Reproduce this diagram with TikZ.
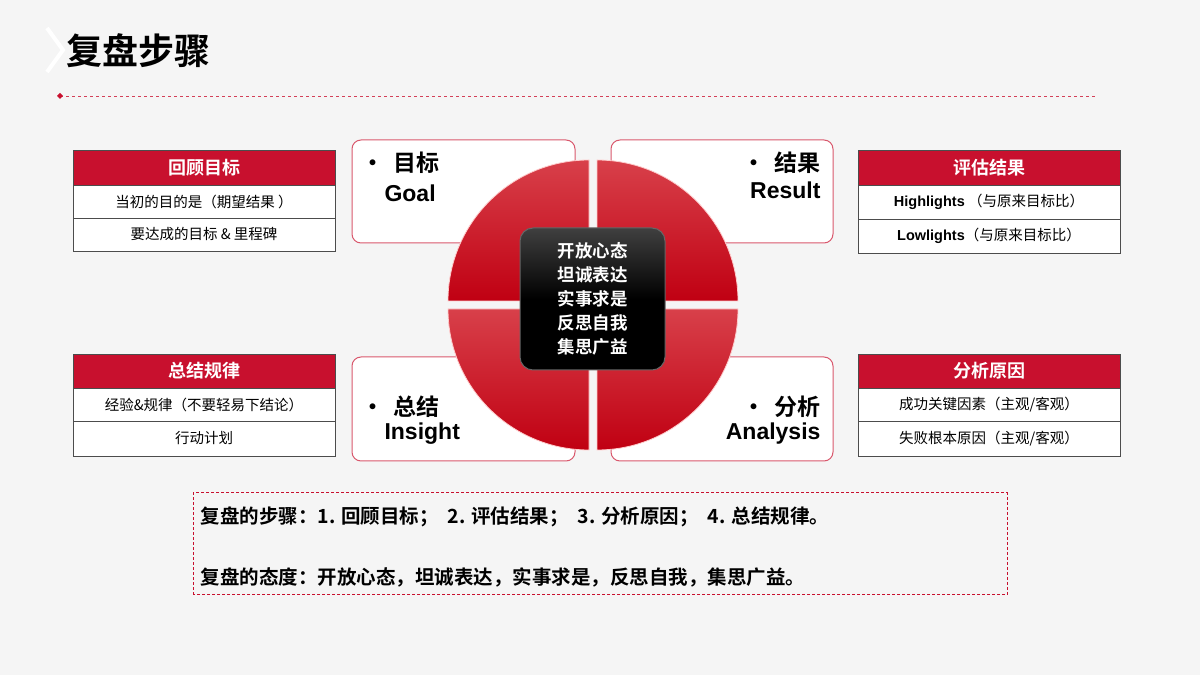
\documentclass[tikz,border=0pt]{standalone}
\usepackage{fontspec}
\setmainfont{Noto Sans CJK SC}[BoldFont={Noto Sans CJK SC Bold}]
\newfontfamily\lat{Liberation Sans}
\definecolor{myred}{HTML}{C8102E}
\definecolor{slicetop}{HTML}{D8404A}
\definecolor{slicebot}{HTML}{C00012}
\definecolor{bg}{HTML}{F5F5F5}
\begin{document}
\begin{tikzpicture}[x=1pt,y=1pt,
  qbox/.style={draw=myred!70,line width=1pt,fill=white,rounded corners=9pt},
  slice/.style={top color=slicetop,bottom color=slicebot,draw=white!80!red,line width=0.8pt},
  hdr/.style={fill=myred,draw=black!70,line width=0.8pt},
  cell/.style={fill=white,draw=black!70,line width=0.8pt},
  hdrtxt/.style={font=\fontsize{18}{20}\selectfont\bfseries,text=white},
  celltxt/.style={font=\fontsize{14.5}{16}\selectfont},
  qlab/.style={font=\fontsize{23}{26}\selectfont\bfseries},
  qlat/.style={font=\lat\fontsize{23}{26}\selectfont\bfseries}]
\fill[bg] (0,0) rectangle (1200,675);
\useasboundingbox (0,0) rectangle (1200,675);
% title
\draw[white,line width=4pt] (47,647) -- (63,625) -- (47,603);
\node[anchor=west,font=\fontsize{36}{40}\selectfont\bfseries] (title) at (63,624) {复盘步骤};
\coordinate (l0) at (60,579); \coordinate (l1) at (1095,579);
\draw[myred!80,dashed,line width=0.8pt] (l0) -- (l1);
\fill[myred] (l0) ++(-3,0) -- ++(3,3) -- ++(3,-3) -- ++(-3,-3) -- cycle;
% quadrant boxes
\draw[qbox] (352,432) rectangle (575,535);
\draw[qbox] (611,432) rectangle (833,535);
\draw[qbox] (352,214) rectangle (575,318);
\draw[qbox] (611,214) rectangle (833,318);
% slices
\draw[slice] (589,374) -- ++(-141,0) arc[start angle=180,end angle=90,radius=141] -- cycle;
\draw[slice] (597,374) -- ++(0,141) arc[start angle=90,end angle=0,radius=141] -- cycle;
\draw[slice] (589,366) -- ++(-141,0) arc[start angle=180,end angle=270,radius=141] -- cycle;
\draw[slice] (597,366) -- ++(0,-141) arc[start angle=270,end angle=360,radius=141] -- cycle;
% center
\draw[rounded corners=13pt,top color=black!75,bottom color=black,middle color=black,draw=black!60,line width=1pt] (520,305) rectangle (665,447);
\node[text=white,font=\fontsize{17.5}{24}\selectfont\bfseries,align=center] (ctr) at (592.5,376) {开放心态\\坦诚表达\\实事求是\\反思自我\\集思广益};
% quadrant labels
\node[qlab,anchor=west] (g1) at (358,512) {•\, 目标};
\node[qlat,anchor=west] (g2) at (381,482) {Goal};
\node[qlab,anchor=east] (r1) at (824,512) {•\, 结果};
\node[qlat,anchor=east] (r2) at (824,485) {Result};
\node[qlab,anchor=west] (i1) at (358,268) {•\, 总结};
\node[qlat,anchor=west] (i2) at (381,241) {Insight};
\node[qlab,anchor=east] (a1) at (824,268) {•\, 分析};
\node[qlat,anchor=east] (a2) at (824,241) {Analysis};
% tables
\draw[hdr] (73,490) rectangle (335,525); \node[hdrtxt] (t1h) at (204,507.5) {回顾目标};
\draw[cell] (73,457) rectangle (335,490); \node[celltxt] (t1a) at (204,473.5) {当初的目的是（期望结果 ）};
\draw[cell] (73,424) rectangle (335,457); \node[celltxt] (t1b) at (204,440.5) {要达成的目标 \& 里程碑};
\draw[hdr] (858,490) rectangle (1120,525); \node[hdrtxt] (t2h) at (989,507.5) {评估结果};
\draw[cell] (858,456) rectangle (1120,490); \node[celltxt] (t2a) at (989,473) {{\lat\bfseries Highlights} （与原来目标比）};
\draw[cell] (858,422) rectangle (1120,456); \node[celltxt] (t2b) at (989,439) {{\lat\bfseries Lowlights}（与原来目标比）};
\draw[hdr] (73,287) rectangle (335,321); \node[hdrtxt] (t3h) at (204,304) {总结规律};
\draw[cell] (73,254) rectangle (335,287); \node[celltxt] (t3a) at (204,270.5) {经验\&规律（不要轻易下结论）};
\draw[cell] (73,219) rectangle (335,254); \node[celltxt] (t3b) at (204,236.5) {行动计划};
\draw[hdr] (858,287) rectangle (1120,321); \node[hdrtxt] (t4h) at (989,304) {分析原因};
\draw[cell] (858,254) rectangle (1120,287); \node[celltxt] (t4a) at (989,270.5) {成功关键因素（主观/客观）};
\draw[cell] (858,219) rectangle (1120,254); \node[celltxt] (t4b) at (989,236.5) {失败根本原因（主观/客观）};
% bottom
\draw[myred,densely dashed,line width=1pt] (193,80) rectangle (1007,182);
\node[anchor=west,font=\fontsize{19.5}{22}\selectfont\bfseries] (b1) at (197,158) {复盘的步骤：1. 回顾目标；\ \ 2. 评估结果；\ \ 3. 分析原因；\ \ 4. 总结规律。};
\node[anchor=west,font=\fontsize{19.5}{22}\selectfont\bfseries] (b2) at (197,98) {复盘的态度：开放心态，坦诚表达，实事求是，反思自我，集思广益。};
\end{tikzpicture}
\end{document}
